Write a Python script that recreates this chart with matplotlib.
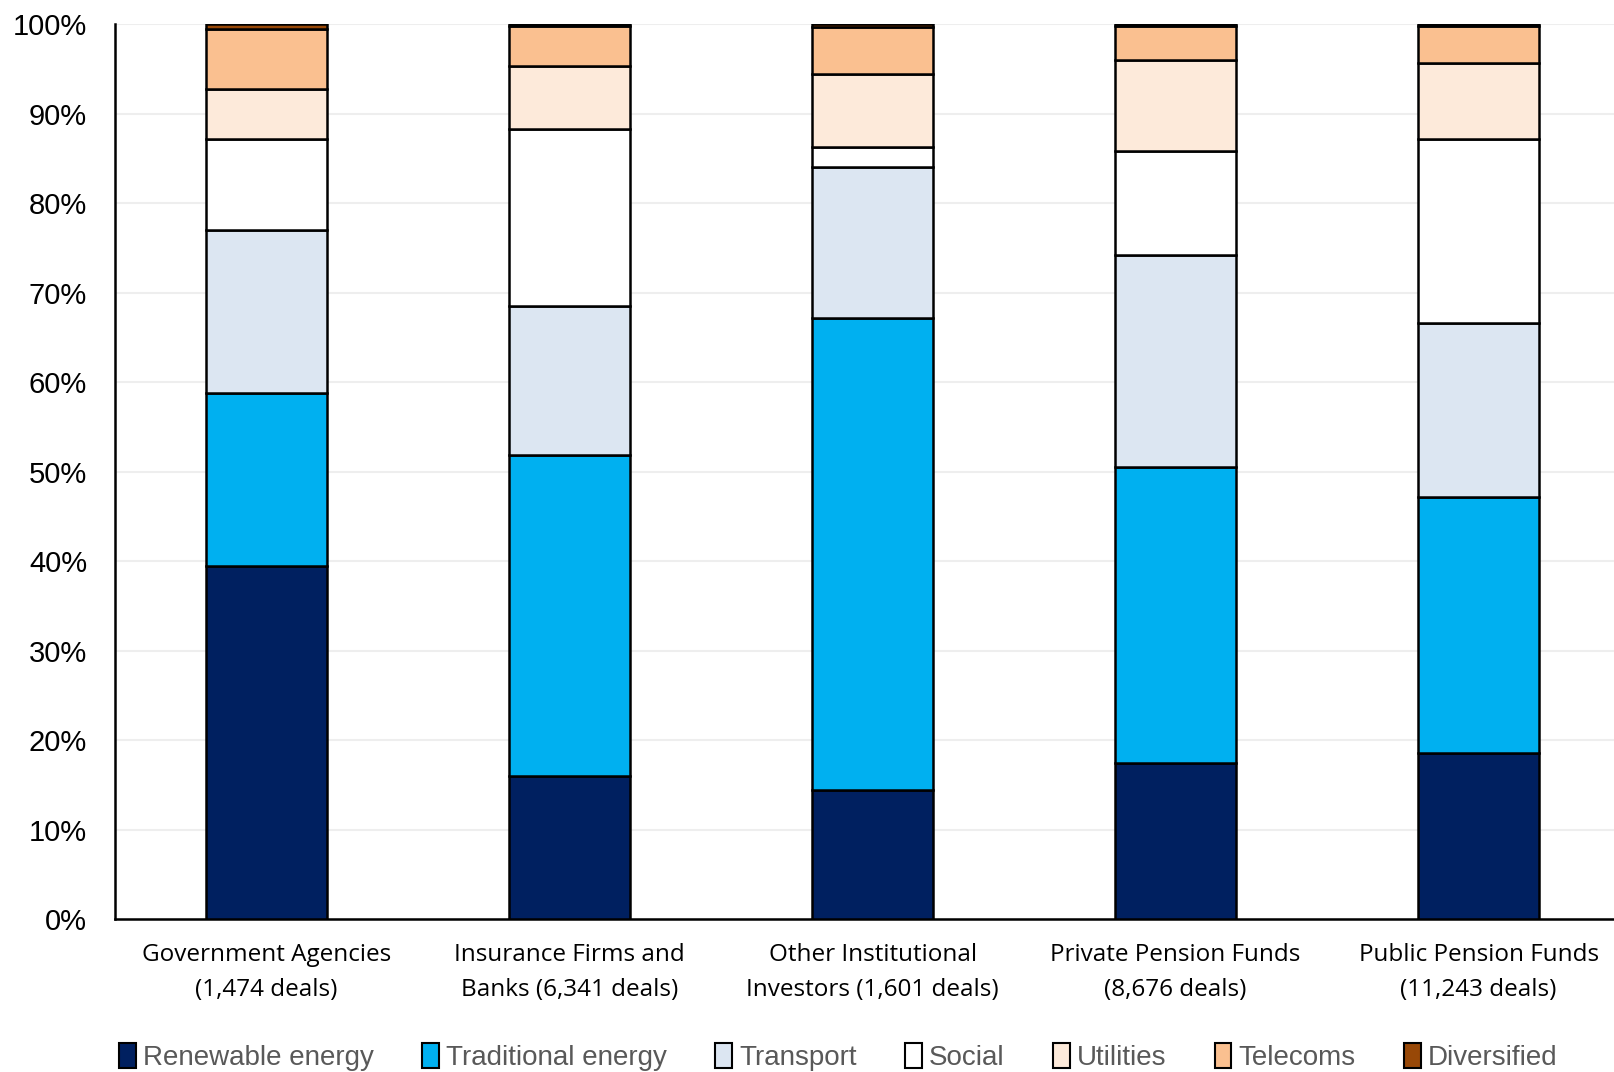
import matplotlib
matplotlib.use("Agg")
import matplotlib.pyplot as plt
from matplotlib.patches import Patch
import numpy as np

categories = ["Government Agencies\n(1,474 deals)", "Insurance Firms and\nBanks (6,341 deals)",
              "Other Institutional\nInvestors (1,601 deals)", "Private Pension Funds\n(8,676 deals)",
              "Public Pension Funds\n(11,243 deals)"]
series_names = ["Renewable energy", "Traditional energy", "Transport", "Social", "Utilities", "Telecoms", "Diversified"]
renewable = [39.4, 16.0, 14.4, 17.4, 18.6]
traditional = [19.4, 35.8, 52.8, 33.1, 28.6]
transport = [18.2, 16.7, 16.8, 23.7, 19.4]
social = [10.1, 19.8, 2.3, 11.6, 20.5]
utilities = [5.6, 7.0, 8.1, 10.2, 8.5]
telecoms = [6.7, 4.5, 5.3, 3.8, 4.2]
diversified = [0.6, 0.2, 0.3, 0.2, 0.2]
yticks = [0, 10, 20, 30, 40, 50, 60, 70, 80, 90, 100]
ytick_labels = ["0%", "10%", "20%", "30%", "40%", "50%", "60%", "70%", "80%", "90%", "100%"]

colors = ["#002060", "#00B0F0", "#DCE6F2", "#FFFFFF", "#FDEADA", "#FAC090", "#984807"]

fig = plt.figure(figsize=(16.15, 10.72), dpi=100)
ax = fig.add_axes([0.0712, 0.1427, 0.9288, 0.8349])

data = [renewable, traditional, transport, social, utilities, telecoms, diversified]
x = np.arange(len(categories))
bottom = np.zeros(len(categories))
for vals, col, name in zip(data, colors, series_names):
    ax.bar(x, vals, 0.4, bottom=bottom, color=col, edgecolor="black", linewidth=1.8, label=name, zorder=3)
    bottom += np.array(vals)

ax.set_ylim(0, 100)
ax.set_xlim(-0.5, 4.45)
ax.set_yticks(yticks)
ax.set_yticklabels(ytick_labels, fontsize=21, family="Liberation Sans")
ax.set_xticks(x)
ax.set_xticklabels(categories, fontsize=17.5, family="Open Sans", linespacing=1.62)
ax.tick_params(axis="both", length=0)
ax.tick_params(axis="x", pad=17)
ax.tick_params(axis="y", pad=20)
ax.yaxis.grid(True, color="#EEEEEE", linewidth=1.5, zorder=0)
for s in ["top", "right"]:
    ax.spines[s].set_visible(False)
ax.spines["left"].set_linewidth(1.8)
ax.spines["bottom"].set_linewidth(1.8)

handles = [Patch(facecolor=c, edgecolor="black", linewidth=1.5) for c in colors]
leg = fig.legend(handles, series_names, loc="center", bbox_to_anchor=(0.519, 0.014), ncol=7,
                 frameon=False, handlelength=0.6, handleheight=1.0, handletextpad=0.25,
                 columnspacing=1.75,
                 prop={"family": "Liberation Sans", "size": 20})
for t in leg.get_texts():
    t.set_color("#595959")

fig.savefig("out.png", dpi=100)
